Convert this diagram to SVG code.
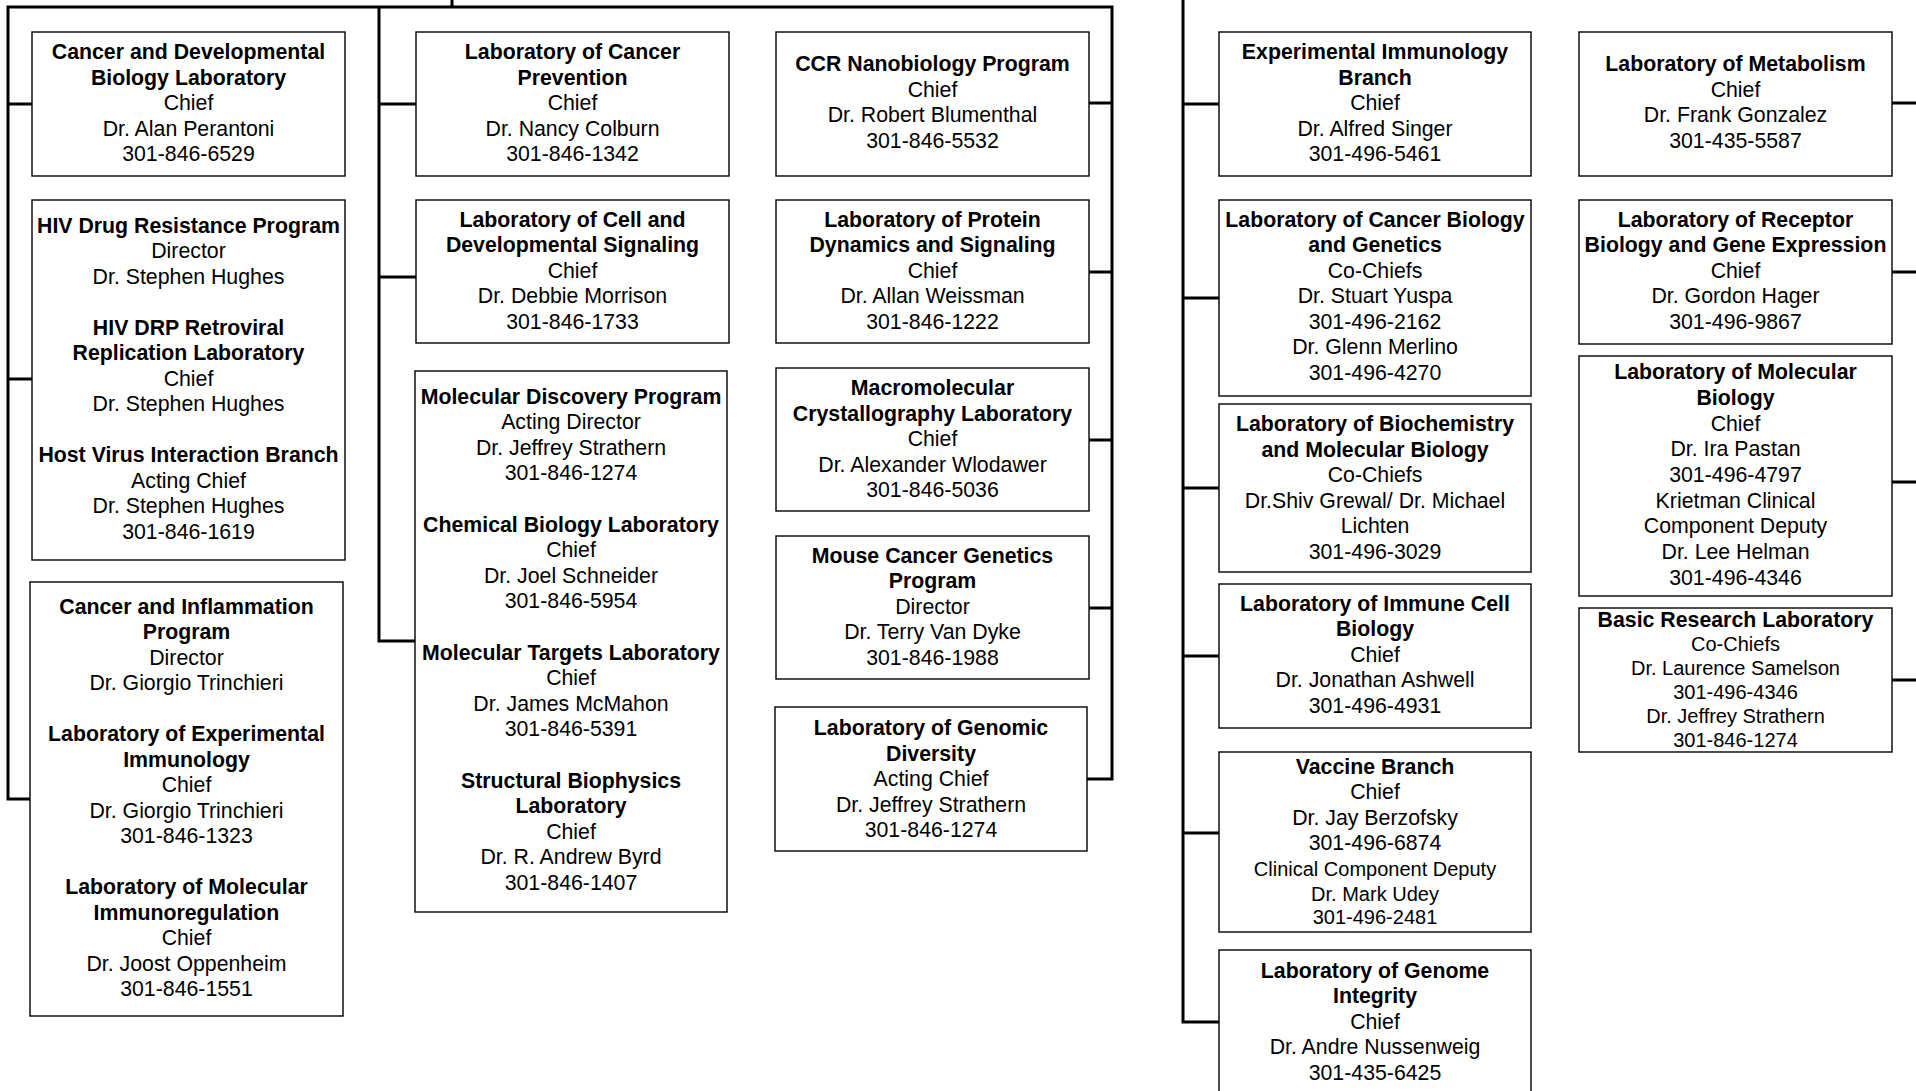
<svg xmlns="http://www.w3.org/2000/svg" width="1916" height="1091" viewBox="0 0 1916 1091">
<style>
.bg{fill:#fff}
.box{fill:#fff;stroke:#000;stroke-width:1.4}
.conn{fill:none;stroke:#000;stroke-width:3;stroke-linejoin:miter}
text{font-family:"Liberation Sans",Arial,sans-serif;font-size:21.3px;fill:#000;text-anchor:middle}
.b{font-weight:bold}
.s{font-size:20px}
</style>
<rect class="bg" x="0" y="0" width="1916" height="1091"/>
<g id="connectors">
<path class="conn" d="M30,799 H8 V7 H1112 V779 H1087"/>
<path class="conn" d="M452,0 V7"/>
<path class="conn" d="M8,104 H32 M8,379 H32"/>
<path class="conn" d="M379,7 V641 H415 M379,104 H416 M379,277 H416"/>
<path class="conn" d="M1089,103 H1112 M1089,272 H1112 M1089,440 H1112 M1089,608 H1112"/>
<path class="conn" d="M1183,0 V1022 H1219 M1183,104 H1219 M1183,298 H1219 M1183,488 H1219 M1183,656 H1219 M1183,833 H1219"/>
<path class="conn" d="M1892,103 H1916 M1892,272 H1916 M1892,482 H1916 M1892,680 H1916"/>
</g>
<g id="cdbl">
<rect class="box" x="32" y="32" width="313" height="144"/>
<text y="59.3"><tspan x="188.5" class="b">Cancer and Developmental</tspan><tspan x="188.5" dy="25.5" class="b">Biology Laboratory</tspan><tspan x="188.5" dy="25.5">Chief</tspan><tspan x="188.5" dy="25.5">Dr. Alan Perantoni</tspan><tspan x="188.5" dy="25.5">301-846-6529</tspan></text>
</g>
<g id="hivdrp">
<rect class="box" x="32" y="200" width="313" height="360"/>
<text y="232.5"><tspan x="188.5" class="b">HIV Drug Resistance Program</tspan><tspan x="188.5" dy="25.5">Director</tspan><tspan x="188.5" dy="25.5">Dr. Stephen Hughes</tspan><tspan x="188.5" dy="51" class="b">HIV DRP Retroviral</tspan><tspan x="188.5" dy="25.5" class="b">Replication Laboratory</tspan><tspan x="188.5" dy="25.5">Chief</tspan><tspan x="188.5" dy="25.5">Dr. Stephen Hughes</tspan><tspan x="188.5" dy="51" class="b">Host Virus Interaction Branch</tspan><tspan x="188.5" dy="25.5">Acting Chief</tspan><tspan x="188.5" dy="25.5">Dr. Stephen Hughes</tspan><tspan x="188.5" dy="25.5">301-846-1619</tspan></text>
</g>
<g id="cip">
<rect class="box" x="30" y="582" width="313" height="434"/>
<text y="613.5"><tspan x="186.5" class="b">Cancer and Inflammation</tspan><tspan x="186.5" dy="25.5" class="b">Program</tspan><tspan x="186.5" dy="25.5">Director</tspan><tspan x="186.5" dy="25.5">Dr. Giorgio Trinchieri</tspan><tspan x="186.5" dy="51" class="b">Laboratory of Experimental</tspan><tspan x="186.5" dy="25.5" class="b">Immunology</tspan><tspan x="186.5" dy="25.5">Chief</tspan><tspan x="186.5" dy="25.5">Dr. Giorgio Trinchieri</tspan><tspan x="186.5" dy="25.5">301-846-1323</tspan><tspan x="186.5" dy="51" class="b">Laboratory of Molecular</tspan><tspan x="186.5" dy="25.5" class="b">Immunoregulation</tspan><tspan x="186.5" dy="25.5">Chief</tspan><tspan x="186.5" dy="25.5">Dr. Joost Oppenheim</tspan><tspan x="186.5" dy="25.5">301-846-1551</tspan></text>
</g>
<g id="lcp">
<rect class="box" x="416" y="32" width="313" height="144"/>
<text y="59.1"><tspan x="572.5" class="b">Laboratory of Cancer</tspan><tspan x="572.5" dy="25.5" class="b">Prevention</tspan><tspan x="572.5" dy="25.5">Chief</tspan><tspan x="572.5" dy="25.5">Dr. Nancy Colburn</tspan><tspan x="572.5" dy="25.5">301-846-1342</tspan></text>
</g>
<g id="lcds">
<rect class="box" x="416" y="200" width="313" height="143"/>
<text y="226.8"><tspan x="572.5" class="b">Laboratory of Cell and</tspan><tspan x="572.5" dy="25.5" class="b">Developmental Signaling</tspan><tspan x="572.5" dy="25.5">Chief</tspan><tspan x="572.5" dy="25.5">Dr. Debbie Morrison</tspan><tspan x="572.5" dy="25.5">301-846-1733</tspan></text>
</g>
<g id="mdp">
<rect class="box" x="415" y="371" width="312" height="541"/>
<text y="403.6"><tspan x="571" class="b">Molecular Discovery Program</tspan><tspan x="571" dy="25.6">Acting Director</tspan><tspan x="571" dy="25.6">Dr. Jeffrey Strathern</tspan><tspan x="571" dy="25.6">301-846-1274</tspan><tspan x="571" dy="51.2" class="b">Chemical Biology Laboratory</tspan><tspan x="571" dy="25.6">Chief</tspan><tspan x="571" dy="25.6">Dr. Joel Schneider</tspan><tspan x="571" dy="25.6">301-846-5954</tspan><tspan x="571" dy="51.2" class="b">Molecular Targets Laboratory</tspan><tspan x="571" dy="25.6">Chief</tspan><tspan x="571" dy="25.6">Dr. James McMahon</tspan><tspan x="571" dy="25.6">301-846-5391</tspan><tspan x="571" dy="51.2" class="b">Structural Biophysics</tspan><tspan x="571" dy="25.6" class="b">Laboratory</tspan><tspan x="571" dy="25.6">Chief</tspan><tspan x="571" dy="25.6">Dr. R. Andrew Byrd</tspan><tspan x="571" dy="25.6">301-846-1407</tspan></text>
</g>
<g id="ccrnano">
<rect class="box" x="776" y="32" width="313" height="144"/>
<text y="71.1"><tspan x="932.5" class="b">CCR Nanobiology Program</tspan><tspan x="932.5" dy="25.5">Chief</tspan><tspan x="932.5" dy="25.5">Dr. Robert Blumenthal</tspan><tspan x="932.5" dy="25.5">301-846-5532</tspan></text>
</g>
<g id="lpds">
<rect class="box" x="776" y="200" width="313" height="143"/>
<text y="226.8"><tspan x="932.5" class="b">Laboratory of Protein</tspan><tspan x="932.5" dy="25.5" class="b">Dynamics and Signaling</tspan><tspan x="932.5" dy="25.5">Chief</tspan><tspan x="932.5" dy="25.5">Dr. Allan Weissman</tspan><tspan x="932.5" dy="25.5">301-846-1222</tspan></text>
</g>
<g id="mcl">
<rect class="box" x="776" y="368" width="313" height="143"/>
<text y="395.1"><tspan x="932.5" class="b">Macromolecular</tspan><tspan x="932.5" dy="25.5" class="b">Crystallography Laboratory</tspan><tspan x="932.5" dy="25.5">Chief</tspan><tspan x="932.5" dy="25.5">Dr. Alexander Wlodawer</tspan><tspan x="932.5" dy="25.5">301-846-5036</tspan></text>
</g>
<g id="mcgp">
<rect class="box" x="776" y="536" width="313" height="143"/>
<text y="562.8"><tspan x="932.5" class="b">Mouse Cancer Genetics</tspan><tspan x="932.5" dy="25.5" class="b">Program</tspan><tspan x="932.5" dy="25.5">Director</tspan><tspan x="932.5" dy="25.5">Dr. Terry Van Dyke</tspan><tspan x="932.5" dy="25.5">301-846-1988</tspan></text>
</g>
<g id="lgd">
<rect class="box" x="775" y="707" width="312" height="144"/>
<text y="735.1"><tspan x="931" class="b">Laboratory of Genomic</tspan><tspan x="931" dy="25.5" class="b">Diversity</tspan><tspan x="931" dy="25.5">Acting Chief</tspan><tspan x="931" dy="25.5">Dr. Jeffrey Strathern</tspan><tspan x="931" dy="25.5">301-846-1274</tspan></text>
</g>
<g id="eib">
<rect class="box" x="1219" y="32" width="312" height="144"/>
<text y="59.1"><tspan x="1375" class="b">Experimental Immunology</tspan><tspan x="1375" dy="25.5" class="b">Branch</tspan><tspan x="1375" dy="25.5">Chief</tspan><tspan x="1375" dy="25.5">Dr. Alfred Singer</tspan><tspan x="1375" dy="25.5">301-496-5461</tspan></text>
</g>
<g id="lcbg">
<rect class="box" x="1219" y="200" width="312" height="196"/>
<text y="226.8"><tspan x="1375" class="b">Laboratory of Cancer Biology</tspan><tspan x="1375" dy="25.5" class="b">and Genetics</tspan><tspan x="1375" dy="25.5">Co-Chiefs</tspan><tspan x="1375" dy="25.5">Dr. Stuart Yuspa</tspan><tspan x="1375" dy="25.5">301-496-2162</tspan><tspan x="1375" dy="25.5">Dr. Glenn Merlino</tspan><tspan x="1375" dy="25.5">301-496-4270</tspan></text>
</g>
<g id="lbmb">
<rect class="box" x="1219" y="404" width="312" height="168"/>
<text y="431.1"><tspan x="1375" class="b">Laboratory of Biochemistry</tspan><tspan x="1375" dy="25.5" class="b">and Molecular Biology</tspan><tspan x="1375" dy="25.5">Co-Chiefs</tspan><tspan x="1375" dy="25.5">Dr.Shiv Grewal/ Dr. Michael</tspan><tspan x="1375" dy="25.5">Lichten</tspan><tspan x="1375" dy="25.5">301-496-3029</tspan></text>
</g>
<g id="licb">
<rect class="box" x="1219" y="584" width="312" height="144"/>
<text y="610.8"><tspan x="1375" class="b">Laboratory of Immune Cell</tspan><tspan x="1375" dy="25.5" class="b">Biology</tspan><tspan x="1375" dy="25.5">Chief</tspan><tspan x="1375" dy="25.5">Dr. Jonathan Ashwell</tspan><tspan x="1375" dy="25.5">301-496-4931</tspan></text>
</g>
<g id="vb">
<rect class="box" x="1219" y="752" width="312" height="180"/>
<text y="773.5"><tspan x="1375" class="b">Vaccine Branch</tspan><tspan x="1375" dy="25.5">Chief</tspan><tspan x="1375" dy="25.5">Dr. Jay Berzofsky</tspan><tspan x="1375" dy="25.5">301-496-6874</tspan></text>
<text class="s" y="875.8"><tspan x="1375">Clinical Component Deputy</tspan><tspan x="1375" dy="24.7">Dr. Mark Udey</tspan><tspan x="1375" dy="23.7">301-496-2481</tspan></text>
</g>
<g id="lgi">
<rect class="box" x="1219" y="950" width="312" height="160"/>
<text y="977.5"><tspan x="1375" class="b">Laboratory of Genome</tspan><tspan x="1375" dy="25.5" class="b">Integrity</tspan><tspan x="1375" dy="25.5">Chief</tspan><tspan x="1375" dy="25.5">Dr. Andre Nussenweig</tspan><tspan x="1375" dy="25.5">301-435-6425</tspan></text>
</g>
<g id="lm">
<rect class="box" x="1579" y="32" width="313" height="144"/>
<text y="71.1"><tspan x="1735.5" class="b">Laboratory of Metabolism</tspan><tspan x="1735.5" dy="25.5">Chief</tspan><tspan x="1735.5" dy="25.5">Dr. Frank Gonzalez</tspan><tspan x="1735.5" dy="25.5">301-435-5587</tspan></text>
</g>
<g id="lrbge">
<rect class="box" x="1579" y="200" width="313" height="144"/>
<text y="226.8"><tspan x="1735.5" class="b">Laboratory of Receptor</tspan><tspan x="1735.5" dy="25.5" class="b">Biology and Gene Expression</tspan><tspan x="1735.5" dy="25.5">Chief</tspan><tspan x="1735.5" dy="25.5">Dr. Gordon Hager</tspan><tspan x="1735.5" dy="25.5">301-496-9867</tspan></text>
</g>
<g id="lmb">
<rect class="box" x="1579" y="356" width="313" height="240"/>
<text y="379.1"><tspan x="1735.5" class="b">Laboratory of Molecular</tspan><tspan x="1735.5" dy="25.7" class="b">Biology</tspan><tspan x="1735.5" dy="25.7">Chief</tspan><tspan x="1735.5" dy="25.7">Dr. Ira Pastan</tspan><tspan x="1735.5" dy="25.7">301-496-4797</tspan><tspan x="1735.5" dy="25.7">Krietman Clinical</tspan><tspan x="1735.5" dy="25.7">Component Deputy</tspan><tspan x="1735.5" dy="25.7">Dr. Lee Helman</tspan><tspan x="1735.5" dy="25.7">301-496-4346</tspan></text>
</g>
<g id="brl">
<rect class="box" x="1579" y="608" width="313" height="144"/>
<text class="b" x="1735.5" y="626.8">Basic Research Laboratory</text>
<text class="s" y="650.8"><tspan x="1735.5">Co-Chiefs</tspan><tspan x="1735.5" dy="24">Dr. Laurence Samelson</tspan><tspan x="1735.5" dy="24">301-496-4346</tspan><tspan x="1735.5" dy="24">Dr. Jeffrey Strathern</tspan><tspan x="1735.5" dy="24">301-846-1274</tspan></text>
</g>
</svg>
